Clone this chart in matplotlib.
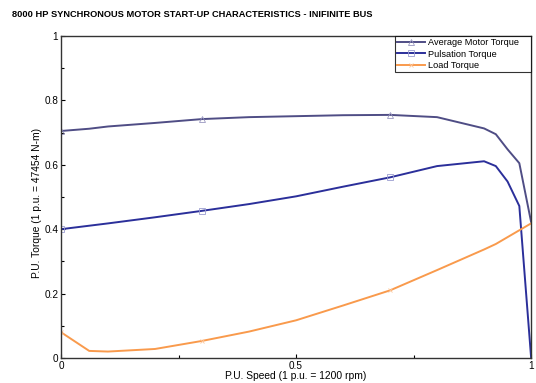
import numpy as np
import matplotlib
matplotlib.use("Agg")
import matplotlib.pyplot as plt

plt.rcParams['font.family'] = ['Liberation Sans', 'DejaVu Sans']

# start-up curves, torque in p.u. against speed in p.u.
avg_speed = [0.0, 0.06, 0.1, 0.2, 0.3, 0.4, 0.5, 0.6, 0.7, 0.8, 0.9, 0.925, 0.95, 0.975, 1.0]
avg_torque = [0.705, 0.712, 0.719, 0.73, 0.742, 0.748, 0.751, 0.754, 0.755, 0.748, 0.713,
              0.695, 0.648, 0.605, 0.423]

puls_speed = [0.0, 0.1, 0.2, 0.3, 0.4, 0.5, 0.6, 0.7, 0.8, 0.9, 0.925, 0.95, 0.975, 1.0]
puls_torque = [0.40, 0.418, 0.437, 0.457, 0.478, 0.502, 0.532, 0.561, 0.596, 0.611, 0.596,
               0.548, 0.472, 0.003]

load_speed = [0.0, 0.06, 0.1, 0.2, 0.3, 0.4, 0.5, 0.6, 0.7, 0.8, 0.9, 0.925, 1.0]
load_torque = [0.08, 0.022, 0.02, 0.028, 0.053, 0.082, 0.117, 0.163, 0.21, 0.273, 0.337,
               0.354, 0.418]

fig = plt.figure(figsize=(5.36, 3.83), dpi=100)
ax = fig.add_axes([0.1138, 0.0653, 0.877, 0.8407])

ax.plot(avg_speed, avg_torque, '-', color='#4f4d85', lw=1.4,
        marker='^', ms=4, mfc='none', mec='#9a98c0', mew=0.6,
        markevery=[0, 4, 8], label='Average Motor Torque')
ax.plot(puls_speed, puls_torque, '-', color='#2b2f9a', lw=1.4,
        marker='s', ms=4, mfc='none', mec='#9a9cd0', mew=0.6,
        markevery=[0, 3, 7], label='Pulsation Torque')
ax.plot(load_speed, load_torque, '-', color='#f99a4c', lw=1.4,
        marker='x', ms=3, mec='#fcc79c', mew=0.6,
        markevery=[0, 4, 8], label='Load Torque')

ax.set_xlim(0, 1)
ax.set_ylim(0, 1)
ax.set_xticks([0, 0.5, 1])
ax.set_xticklabels(['0', '0.5', '1'])
ax.set_xticks([0.25, 0.75], minor=True)
ax.set_yticks([0, 0.2, 0.4, 0.6, 0.8, 1])
ax.set_yticklabels(['0', '0.2', '0.4', '0.6', '0.8', '1'])
ax.set_yticks([0.1, 0.3, 0.5, 0.7, 0.9], minor=True)
ax.tick_params(which='both', direction='in', labelsize=7.2, pad=2)
ax.tick_params(which='major', length=3, width=0.8)
ax.tick_params(which='minor', length=2, width=0.8)
for s in ax.spines.values():
    s.set_linewidth(1.0)
    s.set_color('#333333')

ax.set_xlabel('P.U. Speed (1 p.u. = 1200 rpm)', fontsize=7.4, labelpad=0.5)
ax.set_ylabel('P.U. Torque (1 p.u. = 47454 N-m)', fontsize=7.4)
ax.yaxis.set_label_coords(-0.040, 0.48)

# legend box stretched to a fixed width in the top-right corner
leg = ax.legend(loc='upper left', bbox_to_anchor=(0.7106, 0.0, 0.2894, 1.0),
                mode='expand', fontsize=6.6, frameon=True, fancybox=False,
                borderpad=0.25, labelspacing=0.25, handlelength=3.0,
                handletextpad=0.4, borderaxespad=0)
leg.get_frame().set_edgecolor('black')
leg.get_frame().set_linewidth(0.8)

fig.text(0.023, 0.961, '8000 HP SYNCHRONOUS MOTOR START-UP CHARACTERISTICS - INIFINITE BUS',
         fontsize=6.7, fontweight='bold', ha='left', va='center')

fig.savefig('out.png', dpi=100)
